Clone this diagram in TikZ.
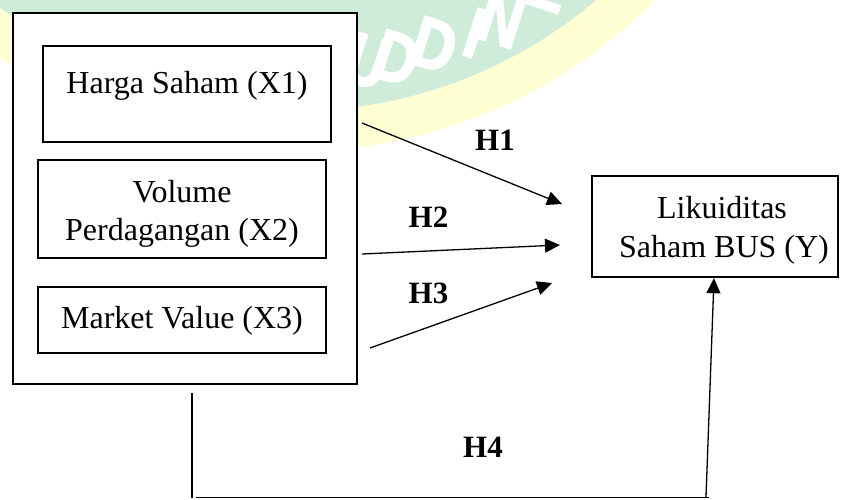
\documentclass[tikz,border=0pt]{standalone}
\usepackage{fontspec}
\setmainfont{Liberation Serif}
\newfontfamily\wmfont[FakeStretch=0.8]{DejaVu Sans}
\usetikzlibrary{arrows.meta}
\definecolor{wmgreen}{RGB}{207,235,218}
\definecolor{wmyellow}{RGB}{255,255,212}
\begin{document}
\begin{tikzpicture}[x=1pt,y=-1pt,
  box/.style={draw=black, line width=2.4pt, fill=white, inner sep=0pt},
  lbl/.style={anchor=base, inner sep=0pt, font=\fontsize{32}{38}\selectfont},
  hyp/.style={anchor=base, inner sep=0pt, font=\fontsize{31}{36}\selectfont\bfseries},
  conn/.style={line width=1.3pt, -{Triangle[length=15pt,width=14pt]}},
  plainline/.style={line width=1.3pt},
  wm/.style={text=white, inner sep=0pt, font=\wmfont\bfseries\fontsize{70}{70}\selectfont, rotate=-18}]
\useasboundingbox (0,0) rectangle (846,499);
\begin{scope}
\clip (0,0) rectangle (846,499);
\fill[wmyellow] (294,-356) circle[radius=507];
\fill[wmgreen] (294,-356) circle[radius=467];
\node[wm] (w1) at (368,62) {U};
\node[wm] (w2) at (396,58) {D};
\node[wm] (w3) at (434,45) {D};
\node[wm] (w4) at (475,33) {I};
\node[wm] (w5) at (502,20) {N};
\node[wm] (w6) at (550,-14) {Z};
\end{scope}

% boxes
\node[box, minimum width=344pt, minimum height=371pt] (outer) at (185,198.5) {};
\node[box, minimum width=288pt, minimum height=96pt] (x1) at (187,94) {};
\node[box, minimum width=288pt, minimum height=98pt] (x2) at (182,209) {};
\node[box, minimum width=288pt, minimum height=66pt] (x3) at (182,320) {};
\node[box, minimum width=246pt, minimum height=101pt] (Y) at (715,226.5) {};

% texts
\node[lbl] (t1) at (187,93) {Harga Saham (X1)};
\node[lbl] (t2a) at (182,202) {Volume};
\node[lbl] (t2b) at (182,240) {Perdagangan (X2)};
\node[lbl] (t3) at (182,328) {Market Value (X3)};
\node[lbl] (ty1) at (722,218) {Likuiditas};
\node[lbl] (ty2) at (724,257) {Saham BUS (Y)};

% hypothesis labels
\node[hyp] (h1) at (495,150) {H1};
\node[hyp] (h2) at (428.5,227) {H2};
\node[hyp] (h3) at (428.5,303) {H3};
\node[hyp] (h4) at (483,457) {H4};

% connectors
\coordinate (a1s) at (362,123); \coordinate (a1e) at (562,204);
\coordinate (a2s) at (362,254); \coordinate (a2e) at (560,245);
\coordinate (a3s) at (370,348); \coordinate (a3e) at (552,283);
\draw[conn] (a1s) -- (a1e);
\draw[conn] (a2s) -- (a2e);
\draw[conn] (a3s) -- (a3e);

\coordinate (b1) at (192,393);
\coordinate (b2) at (192,498);
\coordinate (b3) at (196,497.5);
\coordinate (b4) at (709,497.5);
\coordinate (b5) at (706,497);
\draw[plainline] (b1) -- (b2);
\draw[plainline] (b3) -- (b4);
\draw[conn] (b5) -- ([xshift=-1pt]Y.south);
\end{tikzpicture}
\end{document}
